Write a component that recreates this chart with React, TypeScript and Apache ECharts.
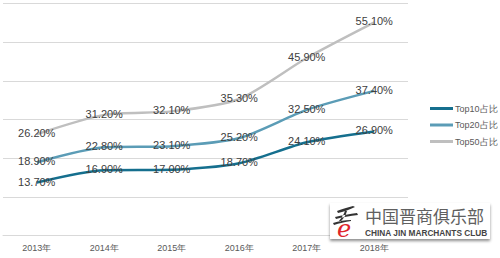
import React, { useEffect, useRef } from "react";
import * as echarts from "echarts";

const categories = ["2013年", "2014年", "2015年", "2016年", "2017年", "2018年"];
const seriesNames = ["Top10占比", "Top20占比", "Top50占比"];
const top10 = [13.7, 16.9, 17.0, 18.7, 24.1, 26.9];
const top20 = [18.9, 22.8, 23.1, 25.2, 32.5, 37.4];
const top50 = [26.2, 31.2, 32.1, 35.3, 45.9, 55.1];
const colors = ["#156f8e", "#5b9cb6", "#bfbfbf"];

echarts.graphic.registerShape(
  "brush",
  echarts.graphic.extendPath(
    "M4 6 C8 4 14 3 20 1 L22 2 C16 5 10 7 5 8 Z M2 12 C9 10 17 9 24 8 L25 10 C17 11 9 12 3 14 Z M12 6 C11 9 9 12 6 16 L7 17 C11 13 13 10 14 6 Z M0 18 C6 16 12 15 18 15 L18 16 C12 17 6 18 1 20 Z",
    {}
  )
);

export default function App() {
  const ref = useRef<HTMLDivElement>(null);
  useEffect(() => {
    const chart = echarts.init(ref.current!, null, { renderer: "svg" });
    const data = [top10, top20, top50];
    chart.setOption({
      animation: false,
      grid: { left: 3, right: 92, top: 3.5, bottom: 22.5 },
      legend: {
        orient: "vertical",
        left: 425,
        top: 99,
        itemWidth: 23,
        itemHeight: 3,
        itemGap: 7.5,
        icon: "rect",
        textStyle: { fontSize: 9, color: "#595959", fontFamily: "Liberation Sans", padding: [0, 0, 0, -3] },
        data: seriesNames,
      },
      xAxis: {
        type: "category",
        data: categories,
        boundaryGap: true,
        axisLine: { lineStyle: { color: "#d9d9d9" } },
        axisTick: { show: false },
        axisLabel: { fontSize: 9, color: "#595959", fontFamily: "Liberation Sans", margin: 8 },
      },
      yAxis: {
        type: "value",
        min: 0,
        max: 60,
        interval: 10,
        axisLabel: { show: false },
        axisLine: { show: false },
        axisTick: { show: false },
        splitLine: { lineStyle: { color: "#d9d9d9", width: 1 } },
      },
      series: seriesNames.map((name, i) => ({
        name,
        type: "line",
        data: data[i],
        smooth: 0.25,
        symbol: "circle",
        symbolSize: 0.1,
        color: colors[i],
        lineStyle: { color: colors[i], width: 2.5 },
        label: {
          show: true,
          position: "inside",
          offset: [0, -1],
          formatter: (p: any) => p.value.toFixed(2) + "%",
          fontSize: 11,
          color: "#404040",
          fontFamily: "Liberation Sans",
        },
      })),
      graphic: [
        {
          type: "rect",
          shape: { x: 330, y: 203, width: 160, height: 36 },
          style: { fill: "#ffffff", shadowBlur: 3, shadowOffsetY: 2, shadowColor: "rgba(0,0,0,0.45)" },
          z: 100,
        },
        {
          type: "brush",
          x: 333,
          y: 205,
          scaleX: 1,
          scaleY: 1,
          style: { fill: "#333333" },
          z: 101,
        },
        {
          type: "text",
          x: 337,
          y: 217,
          style: { text: "e", font: "italic 24px 'DejaVu Serif'", fill: "#e0252b" },
          z: 101,
        },
        {
          type: "text",
          x: 365,
          y: 206,
          style: { text: "中国晋商俱乐部", font: "17px 'Noto Sans CJK SC'", fill: "#606060", lineHeight: 18 },
          z: 101,
        },
        {
          type: "text",
          x: 365,
          y: 229,
          style: { text: "CHINA JIN MARCHANTS CLUB", font: "bold 8.3px 'Liberation Sans'", fill: "#444444" },
          z: 101,
        },
      ],
    });
    return () => chart.dispose();
  }, []);
  return <div ref={ref} style={{ width: 500, height: 258, position: "absolute", left: 0, top: 0 }} />;
}
